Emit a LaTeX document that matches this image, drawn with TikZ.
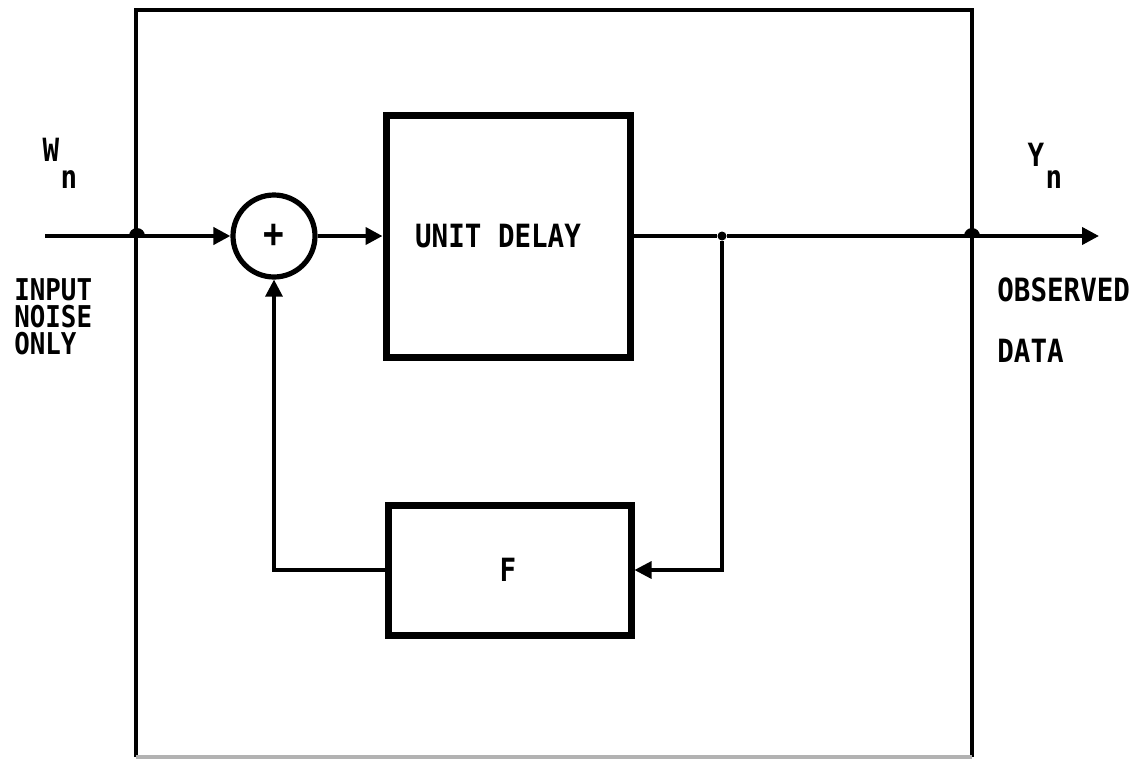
\documentclass[tikz,border=0pt]{standalone}
\usepackage{fontspec}
\newfontfamily\plotfont{DejaVu Sans Mono}[FakeStretch=0.86]
\usetikzlibrary{arrows.meta}
\tikzset{
  x=0.5pt, y=-0.5pt,
  plottext/.style={font=\plotfont\bfseries\fontsize{16}{14}\selectfont, inner sep=0pt},
  smalltext/.style={font=\plotfont\bfseries\fontsize{15}{13}\selectfont, inner sep=0pt, anchor=west},
  framebox/.style={draw, line width=1.6pt},
  blockbox/.style={draw, line width=3.5pt, rectangle, inner sep=0pt},
  sumnode/.style={draw, circle, line width=2.6pt, inner sep=0pt, minimum size=41pt},
  sig/.style={line width=2pt},
  fb/.style={line width=1.6pt},
  tip/.style={-{Triangle[length=8.5pt,width=8.5pt]}},
  jdot/.style={circle, fill, inner sep=0pt, minimum size=4.5pt},
}
\begin{document}
\begin{tikzpicture}
\useasboundingbox (0,0) rectangle (1133,760);
% outer frame
\coordinate (fTL) at (136,10);
\coordinate (fTR) at (972,10);
\coordinate (fBL) at (136,757);
\coordinate (fBR) at (972,757);
\draw[framebox] (fBL) -- (fTL) -- (fTR) -- (fBR);
\draw[line width=1.6pt, gray!60] (fBL) -- (fBR);

% blocks
\node[sumnode] (sum) at (274,236) {};
\node[font=\plotfont\bfseries\fontsize{20}{20}\selectfont, inner sep=0pt] (plus) at (274,236) {+};
\node[blockbox, minimum width=122pt, minimum height=121pt] (ud) at (508,236) {};
\node[plottext] (udtext) at (498,236) {UNIT DELAY};
\node[blockbox, minimum width=121.5pt, minimum height=65pt] (F) at (509.5,570) {};
\node[plottext] (Ftext) at (508,570) {F};

% points
\coordinate (in) at (45,236);
\coordinate (hopL) at (137,236);
\node[jdot] (junc) at (722,236) {};
\coordinate (hopR) at (972,236);
\coordinate (out) at (1099,236);

% connectors
\draw[sig, tip] (in) -- (hopL) -- (sum.west);
\draw[sig, tip] (sum.east) -- (ud.west);
\draw[sig] (ud.east) -- (junc);
\draw[sig, tip] (junc) -- (hopR) -- (out);
\draw[fb, tip] (junc) |- (F.east);
\draw[fb, tip] (F.west) -| (sum.south);

% crossing bumps
\fill (hopL) ++(-4pt,0pt) arc[start angle=180, end angle=0, radius=4pt] -- cycle;
\fill (hopR) ++(-4pt,0pt) arc[start angle=180, end angle=0, radius=4pt] -- cycle;

% labels
\node[plottext] (W) at (51,150) {W};
\node[plottext] (Wn) at (69,180) {n};
\node[plottext] (Y) at (1036,155) {Y};
\node[plottext] (Yn) at (1054,180) {n};
\node[smalltext] (in1) at (14,290) {INPUT};
\node[smalltext] (in2) at (14,317) {NOISE};
\node[smalltext] (in3) at (14,344) {ONLY};
\node[plottext, anchor=west] (obs) at (997,290) {OBSERVED};
\node[plottext, anchor=west] (data) at (997,351) {DATA};
\end{tikzpicture}
\end{document}
